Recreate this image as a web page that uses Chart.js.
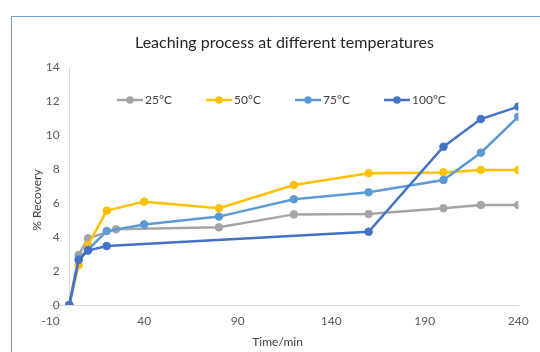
<!DOCTYPE html>
<html>
<head>
<meta charset="utf-8">
<script src="https://cdn.jsdelivr.net/npm/chart.js@4/dist/chart.umd.min.js"></script>
<style>
  html, body { margin: 0; padding: 0; background: #ffffff; }
  #wrap { width: 540px; height: 352px; position: relative; }
</style>
</head>
<body>
<div id="wrap"><canvas id="chart" width="540" height="352"></canvas></div>
<script>
// Sampling times (min) for each run
const times25 = [0, 5, 10, 25, 80, 120, 160, 200, 220, 240];
const times50 = [0, 5, 10, 20, 40, 80, 120, 160, 200, 220, 240];
const times75 = [0, 5, 10, 20, 40, 80, 120, 160, 200, 220, 240];
const times100 = [0, 5, 10, 20, 160, 200, 220, 240];

// % recovery at each sampling time
const recovery25 = [0, 2.94, 3.92, 4.45, 4.57, 5.33, 5.35, 5.69, 5.88, 5.88];
const recovery50 = [0, 2.35, 3.53, 5.55, 6.08, 5.69, 7.06, 7.75, 7.80, 7.94, 7.94];
const recovery75 = [0, 2.70, 3.25, 4.35, 4.74, 5.20, 6.22, 6.63, 7.35, 8.96, 11.08];
const recovery100 = [0, 2.65, 3.20, 3.47, 4.31, 9.31, 10.94, 11.67];

const seriesLabels = ['25°C', '50°C', '75°C', '100°C'];
const seriesColors = ['#A5A5A5', '#FFC000', '#5B9BD5', '#4472C4'];

const xTickValues = [-10, 40, 90, 140, 190, 240];
const yTickStep = 2;

const FONT = 'Lato, "Open Sans", sans-serif';

function toPoints(xs, ys) {
  return xs.map((x, i) => ({ x: x, y: ys[i] }));
}

const allTimes = [times25, times50, times75, times100];
const allRecovery = [recovery25, recovery50, recovery75, recovery100];

const datasets = seriesLabels.map((label, i) => ({
  label: label,
  data: toPoints(allTimes[i], allRecovery[i]),
  showLine: true,
  borderColor: seriesColors[i],
  backgroundColor: seriesColors[i],
  pointBackgroundColor: seriesColors[i],
  pointBorderColor: seriesColors[i],
  borderWidth: 2.5,
  pointRadius: 3.8,
  pointBorderWidth: 1,
  tension: 0,
  order: seriesLabels.length - i
}));

// Extra decorations: y axis at x = 0, outer frame, axis titles and the in-plot legend
const decorations = {
  id: 'decorations',
  beforeDatasetsDraw(chart) {
    const { ctx, chartArea, scales } = chart;
    const x0 = Math.round(scales.x.getPixelForValue(0)) + 0.5;
    ctx.save();
    ctx.strokeStyle = '#D9D9D9';
    ctx.lineWidth = 1;
    ctx.beginPath();
    ctx.moveTo(x0, chartArea.top);
    ctx.lineTo(x0, chartArea.bottom);
    ctx.stroke();
    ctx.restore();
  },
  afterDraw(chart) {
    const { ctx, chartArea, width, height } = chart;
    ctx.save();
    // frame
    ctx.strokeStyle = '#6F9AD6';
    ctx.lineWidth = 1;
    ctx.beginPath();
    ctx.moveTo(11.5, height);
    ctx.lineTo(11.5, 16.5);
    ctx.lineTo(width, 16.5);
    ctx.stroke();

    // axis titles
    ctx.fillStyle = '#404040';
    ctx.font = '12px ' + FONT;
    ctx.textAlign = 'center';
    ctx.textBaseline = 'middle';
    ctx.fillText('Time/min', chartArea.left + 227, chartArea.bottom + 37);
    ctx.save();
    ctx.translate(37, chartArea.top + 133);
    ctx.rotate(-Math.PI / 2);
    ctx.fillText('% Recovery', 0, 0);
    ctx.restore();

    // legend
    const legendY = chartArea.top + 33;
    let lx = chartArea.left + 66.4;
    const colW = 89;
    ctx.font = '12px ' + FONT;
    ctx.textAlign = 'left';
    chart.data.datasets.forEach((ds, i) => {
      ctx.strokeStyle = ds.borderColor;
      ctx.lineWidth = 2.5;
      ctx.beginPath();
      ctx.moveTo(lx, legendY);
      ctx.lineTo(lx + 26, legendY);
      ctx.stroke();
      ctx.fillStyle = ds.borderColor;
      ctx.beginPath();
      ctx.arc(lx + 13, legendY, 3.8, 0, Math.PI * 2);
      ctx.fill();
      ctx.fillStyle = '#404040';
      ctx.fillText(ds.label, lx + 28, legendY + 0.5);
      lx += colW;
    });
    ctx.restore();
  }
};

new Chart(document.getElementById('chart'), {
  type: 'scatter',
  data: { datasets: datasets },
  options: {
    responsive: false,
    animation: false,
    devicePixelRatio: 1,
    layout: { padding: { left: 0, right: 21.7, top: 0, bottom: 0 } },
    plugins: {
      legend: { display: false },
      tooltip: { enabled: false },
      title: {
        display: true,
        text: 'Leaching process at different temperatures',
        fullSize: false,
        color: '#262626',
        font: { family: FONT, size: 16, weight: 'normal', lineHeight: 1.2 },
        padding: { top: 33.4, bottom: 14.4 }
      }
    },
    scales: {
      x: {
        type: 'linear',
        min: -10,
        max: 240,
        afterBuildTicks(scale) { scale.ticks = xTickValues.map(v => ({ value: v })); },
        afterFit(scale) { scale.height = 47; },
        grid: { display: true, drawOnChartArea: false, drawTicks: false },
        border: { display: true, color: '#D9D9D9', width: 1 },
        ticks: { color: '#595959', padding: 9, font: { family: FONT, size: 12 } }
      },
      y: {
        min: 0,
        max: 14,
        afterFit(scale) {
          scale.width = 50.6;
          // tick labels sit just left of the x = 0 axis line, past the scale box
          scale._computeLabelArea = () => undefined;
        },
        grid: { display: true, drawOnChartArea: false, drawTicks: false },
        border: { display: false },
        ticks: { stepSize: yTickStep, color: '#595959', padding: -9, font: { family: FONT, size: 12 } }
      }
    }
  },
  plugins: [decorations]
});
</script>
</body>
</html>
